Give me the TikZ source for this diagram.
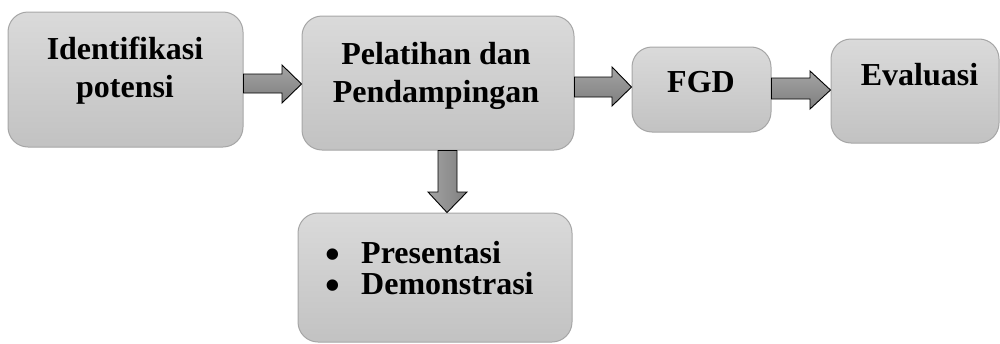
\documentclass[tikz,border=0pt]{standalone}
\usepackage{fontspec}
\setmainfont{Liberation Serif}
\newcommand\bigbul{\makebox[36pt][l]{\smash{\raisebox{-5pt}{\fontsize{42}{31}\selectfont\textbullet}}}}
\begin{document}
\begin{tikzpicture}[x=1pt,y=-1pt,
  box/.style={draw=boxline,line width=1pt,rounded corners=20pt,top color=boxtop,bottom color=boxbot,inner sep=0pt},
  lbl/.style={font=\fontsize{32}{38}\selectfont\bfseries,align=center,inner sep=0pt},
  arr/.style={draw=black,line width=0.9pt,line join=miter,top color=arrtop,bottom color=arrbot},
  darr/.style={draw=black,line width=0.9pt,line join=miter,left color=arrtop,right color=arrbot}]
\definecolor{boxline}{HTML}{A6A6A6}
\definecolor{boxtop}{HTML}{DADADA}
\definecolor{boxbot}{HTML}{C2C2C2}
\definecolor{arrtop}{HTML}{A4A4A4}
\definecolor{arrbot}{HTML}{7E7E7E}
\useasboundingbox (0,0) rectangle (1000,343);
% boxes
\node[box,minimum width=235pt,minimum height=135pt] (b1) at (125.5,79.5) {};
\node[box,minimum width=272pt,minimum height=134pt] (b2) at (438,83) {};
\node[box,minimum width=139pt,minimum height=85pt] (b3) at (701.5,89.5) {};
\node[box,minimum width=168pt,minimum height=104pt] (b4) at (915,91) {};
\node[box,minimum width=274pt,minimum height=129pt] (b5) at (435,277.5) {};
% texts
\node[lbl] (t1) at (125,70.5) {Identifikasi\\potensi};
\node[lbl] (t2) at (436,75.5) {Pelatihan dan\\Pendampingan};
\node[lbl,anchor=base] (t3) at (701,92) {FGD};
\node[lbl,anchor=base] (t4) at (919.5,85) {Evaluasi};
\node[lbl,align=left,anchor=base west,font=\fontsize{32}{30}\selectfont\bfseries] (t5a) at (325,263) {\bigbul Presentasi};
\node[lbl,align=left,anchor=base west,font=\fontsize{32}{30}\selectfont\bfseries] (t5b) at (325,294) {\bigbul Demonstrasi};
% arrows
\draw[arr] (b1.east|-0,74) -- (282,74) -- (282,65) -- (b2.west|-0,84) -- (282,103) -- (282,93) -- (b1.east|-0,93) -- cycle;
\draw[arr] (b2.east|-0,77) -- (612,77) -- (612,67) -- (b3.west|-0,87) -- (612,106) -- (612,97) -- (b2.east|-0,97) -- cycle;
\draw[arr] (b3.east|-0,78) -- (810,78) -- (810,71) -- (b4.west|-0,90) -- (810,109) -- (810,99) -- (b3.east|-0,99) -- cycle;
\draw[darr] (438,0|-b2.south) -- (457,0|-b2.south) -- (457,192) -- (467,192) -- (447,0|-b5.north) -- (428,192) -- (438,192) -- cycle;
\end{tikzpicture}
\end{document}
